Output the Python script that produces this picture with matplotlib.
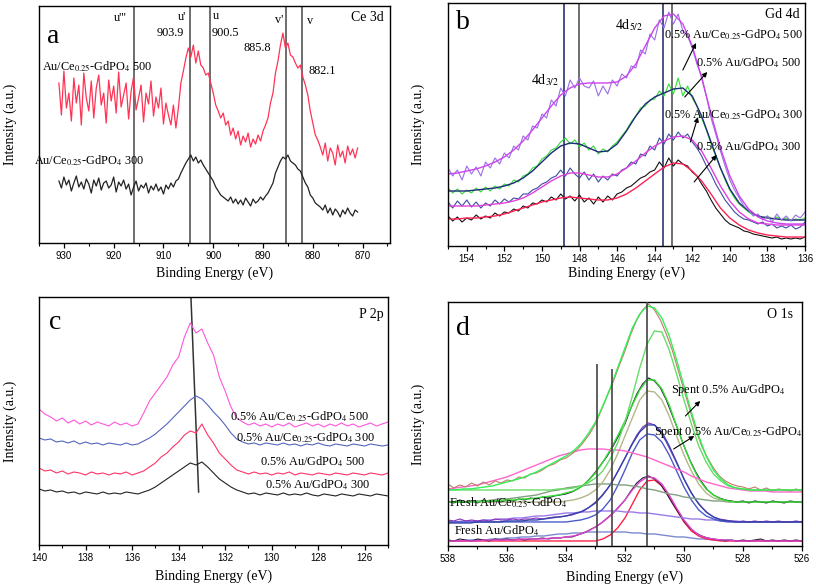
import numpy as np
import matplotlib
matplotlib.use("Agg")
import matplotlib.pyplot as plt
from matplotlib.ticker import MultipleLocator

plt.rcParams["font.family"] = ["Liberation Serif", "DejaVu Serif"]
plt.rcParams["mathtext.fontset"] = "stix"

# ---------------------------------------------------------
# (a) Ce 3d, 931 -> 871 eV, step 0.5
# ---------------------------------------------------------
A_RED = [160, 128, 172, 135, 150, 122, 165, 140, 158, 118, 170, 145, 132, 162, 125, 155, 168, 138, 150, 120,
         163, 142, 157, 130, 171, 136, 148, 160, 124, 152, 166, 133, 145, 158, 121, 150, 139, 162, 127, 146,
         135, 155, 119, 140,
         128, 118, 138, 115, 135,
         160, 172, 185, 195, 186, 198, 180, 192, 178,
         175, 168, 170, 160, 150,
         138, 132, 125, 130, 118,
         122, 108, 115, 104, 112, 98, 107, 101, 110, 96, 104, 99, 108, 102, 112,
         118, 125, 140, 150,
         170, 182, 198, 210, 195, 200, 188, 186,
         180, 175, 178, 166, 158, 148,
         132, 120, 108, 103,
         96, 88, 100, 82, 95, 90, 78, 98, 86, 92, 80, 97, 88, 94, 85, 95]
A_BLACK = [62, 55, 66, 58, 63, 52, 60, 67, 56, 61, 54, 64, 59, 50, 63, 57, 65, 53, 60, 62,
           55, 58, 66, 51, 61, 57, 63, 54, 59, 48, 56, 62, 52, 58, 55, 60, 50, 57, 53, 59,
           52, 56, 49, 58,
           54, 60, 56, 62, 64,
           70, 75, 80, 84, 88, 82, 86, 80, 83,
           78, 74, 70, 66, 62,
           56, 52, 48, 46, 44,
           42, 46, 40, 44, 39, 43, 38, 45, 41, 37, 44, 40, 42, 46, 43,
           47, 50, 55, 60,
           70, 76, 82, 86, 84, 88, 82, 80,
           78, 74, 72, 66, 60, 56,
           48, 45, 40, 38,
           36, 33, 38, 30, 35, 28, 34, 31, 26, 33, 29, 35, 30, 27, 33, 31]
A_LINES = [916.0, 904.6, 900.6, 885.4, 882.1]

# ---------------------------------------------------------
# (b) Gd 4d, data step 0.25, fits step 0.5 (155 -> 136 eV)
# ---------------------------------------------------------
B_PURPLE = [78, 70, 76, 66, 80, 72, 79, 70, 84, 78, 88, 82, 93, 88, 100, 96, 110, 106, 120, 118,
            132, 128, 146, 140, 158, 150, 166, 158, 168, 160, 158, 165, 150, 160, 152, 166, 160, 172, 168, 180,
            178, 196, 192, 212, 206, 226, 218, 234, 222, 232, 215, 210, 198, 182, 170, 150, 128, 112, 95, 80,
            66, 56, 48, 40, 36, 30, 32, 26, 30, 24, 32, 26, 30, 25, 31, 28, 34]
B_PURPLE_FIT = [72, 73, 75, 77, 80, 84, 89, 96, 105, 116, 128, 140, 151, 158, 162, 163, 163, 163, 164, 170,
                182, 200, 218, 230, 232, 222, 200, 168, 132, 98, 70, 50, 37, 29, 25, 23, 22, 22, 22]
B_GREEN = [58, 53, 57, 52, 56, 53, 58, 54, 59, 55, 60, 57, 62, 60, 66, 64, 70, 72, 78, 80,
           87, 90, 96, 98, 104, 108, 102, 106, 99, 103, 96, 100, 92, 97, 94, 100, 104, 110, 116, 124,
           130, 138, 140, 146, 147, 155, 150, 162, 152, 168, 150, 160, 148, 140, 128, 116, 102, 90, 78, 66,
           56, 48, 42, 38, 34, 31, 30, 28, 30, 27, 29, 26, 28, 25, 27, 26, 28]
B_NAVY_FIT = [55, 55, 55, 56, 57, 58, 60, 63, 68, 75, 84, 93, 100, 103, 102, 98, 94, 95, 102, 115,
              130, 142, 149, 153, 157, 158, 150, 130, 104, 78, 57, 43, 35, 30, 28, 27, 26, 26, 26]
B_NAVY = [44, 38, 45, 40, 46, 39, 44, 38, 43, 40, 46, 42, 47, 44, 48, 47, 52, 52, 56, 58,
          62, 64, 68, 70, 76, 70, 78, 72, 68, 74, 66, 72, 64, 70, 66, 72, 70, 76, 78, 84,
          82, 92, 90, 100, 96, 108, 102, 112, 106, 114, 108, 112, 104, 98, 90, 80, 72, 62, 54, 46,
          40, 34, 30, 27, 26, 24, 22, 24, 20, 22, 18, 20, 18, 21, 17, 19, 24]
B_MAGENTA_FIT = [40, 40, 40, 40, 41, 42, 43, 45, 48, 53, 59, 65, 70, 73, 73, 71, 69, 69, 72, 78,
                 85, 93, 100, 105, 109, 110, 106, 95, 78, 60, 45, 34, 27, 23, 22, 21, 21, 21, 21]
B_BLACK = [30, 25, 29, 24, 28, 26, 31, 27, 30, 28, 33, 30, 34, 33, 37, 35, 40, 38, 43, 42,
           46, 44, 49, 46, 52, 47, 50, 45, 51, 44, 48, 42, 49, 44, 50, 46, 52, 54, 58, 60,
           64, 68, 70, 74, 76, 84, 78, 88, 80, 86, 82, 80, 74, 70, 62, 55, 46, 38, 32, 26,
           22, 20, 18, 15, 14, 12, 11, 10, 9, 8, 9, 7, 8, 7, 8, 7, 9]
B_RED_FIT = [27, 27, 28, 28, 29, 30, 32, 35, 38, 41, 44, 46, 48, 49, 48, 47, 46, 46, 48, 52,
             58, 65, 72, 79, 83, 82, 75, 65, 52, 38, 28, 21, 16, 13, 11, 10, 9, 9, 9]
B_LINES = [148.84, 148.04, 143.53, 143.09]
B_LINE_COLORS = ["#2a3570", "#555555", "#2a3570", "#555555"]

# ---------------------------------------------------------
# (c) P 2p, 140 -> 125 eV, step 0.25
# ---------------------------------------------------------
C_MAGENTA = [136, 131, 128, 124, 127, 122, 125, 121, 124, 120, 123, 121, 119, 123, 120, 122, 119, 121, 132, 144,
             152, 160, 168, 180, 188, 208, 222, 212, 216, 202, 190, 168, 154, 138, 127, 123, 120, 122, 119, 121,
             118, 121, 119, 122, 118, 120, 122, 119, 121, 118, 121, 119, 122, 119, 121, 118, 120, 122, 119, 121, 123]
C_BLUE = [107, 105, 106, 103, 104, 102, 104, 101, 103, 101, 102, 100, 102, 101, 100, 102, 100, 101, 104, 107,
          111, 116, 121, 127, 133, 139, 145, 149, 146, 140, 133, 127, 120, 112, 106, 103, 101, 102, 100, 102,
          101, 100, 102, 100, 101, 99, 101, 100, 102, 100, 99, 101, 100, 99, 101, 100, 99, 101, 100, 99, 100]
C_RED = [77, 74, 75, 72, 74, 71, 73, 72, 70, 73, 71, 72, 70, 72, 71, 73, 70, 72, 74, 78,
         82, 88, 92, 98, 103, 110, 114, 112, 121, 110, 102, 92, 86, 80, 75, 73, 71, 73, 71, 72,
         70, 72, 71, 73, 70, 72, 71, 70, 72, 71, 70, 72, 71, 70, 72, 71, 70, 72, 71, 70, 72]
C_BLACK = [56, 54, 55, 53, 54, 52, 53, 51, 53, 52, 51, 53, 51, 52, 51, 53, 52, 51, 53, 55,
           58, 62, 66, 70, 74, 78, 82, 80, 83, 78, 72, 66, 62, 58, 55, 53, 51, 52, 50, 52,
           51, 50, 52, 50, 51, 50, 52, 50, 49, 51, 50, 49, 51, 50, 49, 51, 50, 49, 51, 50, 49]
C_GUIDE_X = [133.47, 133.14]
C_GUIDE_Y = [248, 53]

# ---------------------------------------------------------
# (d) O 1s, data step 0.2, fits step 0.25 (538 -> 526 eV)
# ---------------------------------------------------------
D1_DATA = [62, 58, 61, 59, 63, 60, 64, 61, 65, 63, 66, 65, 69, 68, 72, 73, 76, 80, 82, 86,
           88, 92, 97, 104, 112, 122, 136, 150, 164, 180, 195, 212, 226, 236, 242, 236, 226, 212, 196, 176,
           156, 136, 116, 100, 88, 78, 70, 65, 62, 60, 59, 57, 59, 56, 58, 55, 57, 56, 55, 57, 55]
D1_FIT = [56, 56, 57, 57, 58, 59, 60, 62, 64, 66, 68, 71, 74, 78, 82, 86, 90, 95, 102, 112,
          124, 140, 158, 178, 198, 218, 232, 240, 238, 228, 210, 186, 160, 134, 110, 90, 76, 67, 61, 58,
          57, 56, 56, 56, 56, 56, 56, 56, 56]
D1_MAIN = [56, 56, 56, 56, 56, 56, 56, 56, 56, 56, 56, 56, 56, 56, 56, 57, 57, 58, 60, 63,
           68, 75, 87, 103, 124, 150, 178, 202, 215, 214, 196, 172, 146, 122, 100, 84, 72, 65, 60, 58,
           57, 56, 56, 56, 56, 56, 56, 56, 56]
D1_BROAD = [57, 58, 59, 60, 61, 63, 65, 67, 69, 72, 75, 78, 81, 84, 87, 90, 92, 94, 96, 97,
            97, 97, 96, 96, 95, 93, 91, 89, 86, 83, 80, 77, 74, 70, 67, 64, 62, 60, 58, 57,
            56, 55, 55, 55, 54, 54, 54, 54, 54]

D2_DATA = [45, 43, 46, 44, 45, 43, 46, 44, 45, 44, 46, 45, 47, 46, 48, 47, 49, 48, 50, 51,
           52, 54, 57, 61, 67, 74, 82, 90, 100, 111, 122, 138, 152, 162, 168, 165, 158, 146, 131, 116,
           100, 86, 74, 64, 56, 51, 48, 46, 45, 44, 45, 43, 45, 44, 43, 45, 44, 43, 45, 44, 44]
D2_FIT = [44, 44, 44, 44, 44, 45, 45, 45, 46, 46, 47, 47, 48, 49, 50, 51, 53, 55, 59, 65,
          73, 84, 96, 110, 125, 141, 156, 166, 166, 157, 141, 120, 100, 82, 67, 57, 51, 47, 45, 44,
          44, 44, 44, 44, 44, 44, 44, 44, 44]
D2_MAIN = [44, 44, 44, 44, 44, 44, 44, 44, 44, 44, 44, 44, 44, 44, 44, 44, 45, 46, 48, 51,
           56, 64, 76, 92, 110, 128, 146, 155, 154, 146, 130, 110, 91, 75, 62, 53, 48, 46, 45, 44,
           44, 44, 44, 44, 44, 44, 44, 44, 44]
D2_BROAD = [44, 44, 44, 45, 45, 45, 46, 47, 47, 48, 49, 50, 51, 53, 55, 56, 58, 59, 60, 61,
            62, 62, 62, 61, 61, 60, 59, 57, 56, 54, 52, 51, 49, 48, 47, 46, 45, 45, 44, 44,
            44, 44, 44, 44, 44, 44, 44, 44, 44]

D3_DATA = [26, 25, 27, 25, 26, 25, 26, 25, 27, 26, 26, 27, 26, 27, 27, 28, 27, 28, 29, 29,
           30, 31, 33, 35, 39, 44, 50, 57, 66, 77, 88, 100, 111, 119, 123, 121, 114, 104, 92, 80,
           67, 56, 46, 39, 33, 29, 27, 26, 25, 24, 25, 24, 25, 24, 25, 24, 25, 24, 24, 25, 24]
D3_FIT = [23, 23, 23, 23, 24, 24, 24, 24, 25, 25, 25, 26, 26, 27, 28, 29, 30, 32, 34, 38,
          43, 51, 61, 74, 88, 102, 114, 121, 121, 114, 100, 84, 67, 53, 42, 34, 29, 26, 25, 24,
          24, 24, 24, 24, 24, 24, 24, 24, 24]
D3_MAIN = [24, 24, 24, 24, 24, 24, 24, 24, 24, 24, 24, 24, 24, 24, 24, 24, 24, 25, 26, 28,
           31, 37, 46, 60, 76, 93, 106, 112, 111, 104, 91, 75, 59, 46, 36, 30, 27, 25, 24, 24,
           24, 24, 24, 24, 24, 24, 24, 24, 24]
D3_BROAD = [24, 24, 25, 25, 25, 26, 26, 27, 27, 28, 28, 29, 30, 30, 31, 32, 33, 33, 34, 34,
            35, 35, 35, 35, 34, 34, 33, 33, 32, 31, 30, 29, 28, 27, 27, 26, 26, 25, 25, 25,
            24, 24, 24, 24, 24, 24, 24, 24, 24]

D4_DATA = [6, 5, 7, 6, 5, 7, 6, 5, 7, 6, 7, 6, 7, 6, 7, 7, 8, 7, 8, 8,
           9, 9, 11, 13, 16, 19, 23, 28, 33, 39, 46, 55, 63, 68, 70, 67, 62, 53, 43, 34,
           25, 18, 13, 10, 8, 7, 6, 5, 6, 5, 6, 5, 6, 7, 5, 6, 5, 6, 5, 6, 5]
D4_FIT = [5, 5, 5, 5, 5, 6, 6, 6, 6, 6, 7, 7, 7, 7, 8, 8, 9, 10, 12, 15,
          19, 24, 30, 38, 46, 56, 64, 69, 68, 62, 51, 38, 26, 17, 11, 8, 7, 6, 6, 5,
          5, 5, 5, 5, 5, 5, 5, 5, 5]
D4_MAIN = [5, 5, 5, 5, 5, 5, 5, 5, 5, 5, 5, 5, 5, 5, 5, 5, 5, 5, 5, 5,
           5, 7, 11, 18, 28, 42, 56, 65, 66, 60, 49, 36, 24, 15, 10, 7, 6, 5, 5, 5,
           5, 5, 5, 5, 5, 5, 5, 5, 5]
D4_BROAD = [5, 5, 5, 6, 6, 6, 7, 7, 8, 8, 9, 9, 10, 10, 11, 12, 12, 13, 13, 14,
            14, 14, 14, 14, 14, 13, 13, 12, 12, 11, 10, 9, 9, 8, 7, 7, 6, 6, 6, 5,
            5, 5, 5, 5, 5, 5, 5, 5, 5]
D_LINES = [532.95, 532.45, 531.25]
D_LINE_TOPS = [182, 177, 244]

LABEL_FS = 8.8
SUB = r"$_{0.25}$"


def setup_axes(ax, xlim, height, major, minor, xlabel_y):
    ax.set_xlim(*xlim)
    ax.set_ylim(0, height)
    ax.set_yticks([])
    ax.xaxis.set_major_locator(MultipleLocator(major))
    ax.xaxis.set_minor_locator(MultipleLocator(minor))
    ax.tick_params(axis="x", which="major", direction="out", length=3.5, width=0.9,
                   labelsize=7, pad=2.5, labelfontfamily="Liberation Sans")
    ax.tick_params(axis="x", which="minor", direction="out", length=2.5, width=0.8)
    for s in ax.spines.values():
        s.set_linewidth(1.0)
    ax.set_xlabel("Binding Energy (eV)", fontsize=10)
    ax.set_ylabel("Intensity (a.u.)", fontsize=10)
    ax.xaxis.set_label_coords(0.5, xlabel_y)
    ax.yaxis.set_label_coords(-0.064, 0.5)


def grid(x0, x1, vals):
    return np.linspace(x0, x1, len(vals))


def arrow(ax, tail, head):
    ax.annotate("", xy=head, xytext=tail,
                arrowprops=dict(arrowstyle="-|>", color="black", lw=0.8,
                                mutation_scale=7, shrinkA=0, shrinkB=0))


fig = plt.figure(figsize=(8.16, 5.86), dpi=100)

# ---------------- (a) ----------------
ax = fig.add_axes([0.0478, 0.5853, 0.4301, 0.4044])
setup_axes(ax, (935, 864.5), 237, 10, 5, -0.10)
for xv in A_LINES:
    ax.axvline(xv, color="#555555", lw=1.2, zorder=1)
ax.plot(grid(931, 871, A_RED), A_RED, color="#ff3355", lw=0.9)
ax.plot(grid(931, 871, A_BLACK), A_BLACK, color="#222222", lw=0.9)
ax.text(932.2, 207, "a", fontsize=20, ha="center", va="center")
ax.text(865.8, 226, "Ce 3d", fontsize=10, ha="right", va="center")
ax.text(918.7, 225, "u'''", fontsize=LABEL_FS, ha="center", va="center")
ax.text(906.2, 226, "u'", fontsize=LABEL_FS, ha="center", va="center")
ax.text(908.6, 210, "903.9", fontsize=LABEL_FS, ha="center", va="center")
ax.text(900.1, 227, "u", fontsize=LABEL_FS, ha="left", va="center")
ax.text(897.5, 210, "900.5", fontsize=LABEL_FS, ha="center", va="center")
ax.text(891.2, 195, "885.8", fontsize=LABEL_FS, ha="center", va="center")
ax.text(886.8, 223, "v'", fontsize=LABEL_FS, ha="center", va="center")
ax.text(880.5, 222, "v", fontsize=LABEL_FS, ha="center", va="center")
ax.text(878.1, 172, "882.1", fontsize=LABEL_FS, ha="center", va="center")
ax.text(934.4, 176, "Au/Ce" + SUB + "-GdPO$_4$ 500", fontsize=LABEL_FS, ha="left", va="center")
ax.text(936.0, 82, "Au/Ce" + SUB + "-GdPO$_4$ 300", fontsize=LABEL_FS, ha="left", va="center",
        clip_on=False)

# ---------------- (b) ----------------
ax = fig.add_axes([0.549, 0.5802, 0.4375, 0.4147])
setup_axes(ax, (155, 136), 243, 2, 1, -0.085)
for xv, c in zip(B_LINES, B_LINE_COLORS):
    ax.axvline(xv, color=c, lw=1.2, zorder=1)
ax.plot(grid(155, 136, B_BLACK), B_BLACK, color="#111111", lw=0.8)
ax.plot(grid(155, 136, B_RED_FIT), B_RED_FIT, color="#ff2255", lw=1.0)
ax.plot(grid(155, 136, B_NAVY), B_NAVY, color="#3b4ea0", lw=0.8)
ax.plot(grid(155, 136, B_MAGENTA_FIT), B_MAGENTA_FIT, color="#e040e0", lw=1.0)
ax.plot(grid(155, 136, B_GREEN), B_GREEN, color="#33dd33", lw=0.8)
ax.plot(grid(155, 136, B_NAVY_FIT), B_NAVY_FIT, color="#1f2a7a", lw=1.0)
ax.plot(grid(155, 136, B_PURPLE), B_PURPLE, color="#9a6ee6", lw=0.8)
ax.plot(grid(155, 136, B_PURPLE_FIT), B_PURPLE_FIT, color="#cc44ee", lw=1.0)
ax.text(154.2, 223, "b", fontsize=20, ha="center", va="center")
ax.text(136.3, 231, "Gd 4d", fontsize=10, ha="right", va="center")
ax.text(146.1, 221, "4d$_{5/2}$", fontsize=10, ha="left", va="center")
ax.text(150.6, 166, "4d$_{3/2}$", fontsize=10, ha="left", va="center")
ax.text(143.5, 211, "0.5% Au/Ce" + SUB + "-GdPO$_4$ 500", fontsize=LABEL_FS, ha="left", va="center")
ax.text(141.8, 183, "0.5% Au/GdPO$_4$ 500", fontsize=LABEL_FS, ha="left", va="center")
ax.text(143.5, 131, "0.5% Au/Ce" + SUB + "-GdPO$_4$ 300", fontsize=LABEL_FS, ha="left", va="center")
ax.text(141.8, 99, "0.5% Au/GdPO$_4$ 300", fontsize=LABEL_FS, ha="left", va="center")
arrow(ax, (142.5, 176), (141.8, 203))
arrow(ax, (142.4, 149), (141.2, 174))
arrow(ax, (142.1, 104), (141.7, 129))
arrow(ax, (141.9, 64), (140.7, 91))

# ---------------- (c) ----------------
ax = fig.add_axes([0.0478, 0.07, 0.4277, 0.4232])
setup_axes(ax, (140, 125), 248, 2, 1, -0.10)
ax.plot(C_GUIDE_X, C_GUIDE_Y, color="#333333", lw=1.1)
ax.plot(grid(140, 125, C_BLACK), C_BLACK, color="#222222", lw=0.8)
ax.plot(grid(140, 125, C_RED), C_RED, color="#ff3366", lw=0.8)
ax.plot(grid(140, 125, C_BLUE), C_BLUE, color="#5566bb", lw=0.8)
ax.plot(grid(140, 125, C_MAGENTA), C_MAGENTA, color="#ff55dd", lw=0.8)
ax.text(139.3, 222, "c", fontsize=20, ha="center", va="center")
ax.text(125.2, 230, "P 2p", fontsize=10, ha="right", va="center")
ax.text(131.8, 128, "0.5% Au/Ce" + SUB + "-GdPO$_4$ 500", fontsize=LABEL_FS, ha="left", va="center")
ax.text(131.55, 107, "0.5% Au/Ce" + SUB + "-GdPO$_4$ 300", fontsize=LABEL_FS, ha="left", va="center")
ax.text(130.5, 83, "0.5% Au/GdPO$_4$ 500", fontsize=LABEL_FS, ha="left", va="center")
ax.text(130.3, 60, "0.5% Au/GdPO$_4$ 300", fontsize=LABEL_FS, ha="left", va="center")

# ---------------- (d) ----------------
ax = fig.add_axes([0.549, 0.0683, 0.4338, 0.4164])
setup_axes(ax, (538, 526), 244, 2, 1, -0.10)
for xv, top in zip(D_LINES, D_LINE_TOPS):
    ax.vlines(xv, 0, top, color="#444444", lw=1.2, zorder=5)
groups = [
    (D4_DATA, D4_FIT, D4_MAIN, D4_BROAD, "#2a1a3a", "#dd44cc", "#ff2244", "#7a8ad0"),
    (D3_DATA, D3_FIT, D3_MAIN, D3_BROAD, "#8833bb", "#3344aa", "#4a5ccc", "#9a7ae8"),
    (D2_DATA, D2_FIT, D2_MAIN, D2_BROAD, "#2a1a40", "#33dd33", "#b5b58a", "#80a080"),
    (D1_DATA, D1_FIT, D1_MAIN, D1_BROAD, "#c27c6c", "#33ee55", "#66dd66", "#ff66cc"),
]
for data, fit, main, broad, c_data, c_fit, c_main, c_broad in groups:
    ax.plot(grid(538, 526, broad), broad, color=c_broad, lw=1.0)
    ax.plot(grid(538, 526, main), main, color=c_main, lw=1.0)
    ax.plot(grid(538, 526, data), data, color=c_data, lw=0.8)
    ax.plot(grid(538, 526, fit), fit, color=c_fit, lw=1.0)
ax.text(537.5, 217, "d", fontsize=20, ha="center", va="center")
ax.text(526.3, 231, "O 1s", fontsize=10, ha="right", va="center")
ax.text(530.44, 156, "Spent 0.5% Au/GdPO$_4$", fontsize=LABEL_FS, ha="left", va="center")
ax.text(531.0, 114, "Spent 0.5% Au/Ce" + SUB + "-GdPO$_4$", fontsize=LABEL_FS, ha="left", va="center")
ax.text(537.97, 43, "Fresh Au/Ce" + SUB + "-GdPO$_4$", fontsize=LABEL_FS, ha="left", va="center")
ax.text(537.8, 15, "Fresh Au/GdPO$_4$", fontsize=LABEL_FS, ha="left", va="center")
arrow(ax, (529.95, 130), (529.45, 145))
arrow(ax, (530.35, 97), (529.65, 110))

fig.savefig("out.png", dpi=100)
